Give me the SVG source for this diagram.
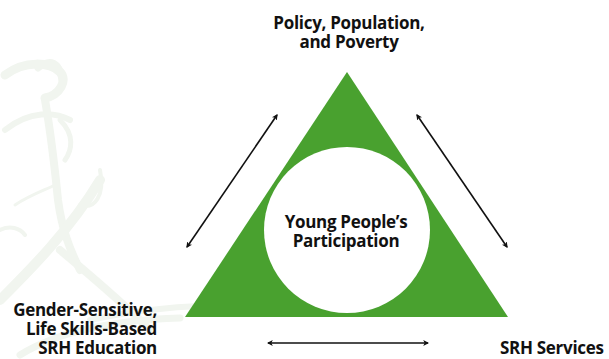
<svg xmlns="http://www.w3.org/2000/svg" width="609" height="359" viewBox="0 0 609 359">
  <style>
    .lbl { font-family: "Open Sans", "Liberation Sans", sans-serif; font-weight: 700; font-size: 17px; letter-spacing: -0.3px; fill: #111; }
    .mid { text-anchor: middle; }
    .end { text-anchor: end; }
    .link { stroke: #111; stroke-width: 1.6; fill: none; marker-start: url(#tip); marker-end: url(#tip); }
    .wm { fill: none; stroke: #f1f5ef; stroke-linecap: round; }
  </style>
  <defs>
    <marker id="tip" viewBox="0 0 10 10" refX="8" refY="5" markerWidth="6" markerHeight="6" orient="auto-start-reverse" markerUnits="userSpaceOnUse">
      <path d="M0,0 L10,5 L0,10 L2.5,5 Z" fill="#111"/>
    </marker>
  </defs>
  <rect width="609" height="359" fill="#fff"/>

  <!-- faint decorative sketch in the background -->
  <g id="backdrop">
    <path class="wm" stroke-width="9" d="M5,75 C25,60 50,62 60,72 C68,80 60,95 45,98"/>
    <path class="wm" stroke-width="7" d="M38,68 C50,58 60,62 62,80"/>
    <path class="wm" stroke-width="6" d="M5,130 C30,110 55,112 70,120"/>
    <path class="wm" stroke-width="8" d="M45,100 C52,140 55,170 58,200 C62,230 70,250 80,270"/>
    <path class="wm" stroke-width="5" d="M60,120 C75,135 72,150 65,160"/>
    <path class="wm" stroke-width="4" d="M100,170 C105,195 95,210 80,205"/>
    <path class="wm" stroke-width="3" d="M15,205 C30,195 45,190 55,185"/>
    <path class="wm" stroke-width="10" d="M0,300 C30,270 70,230 100,180"/>
    <path class="wm" stroke-width="8" d="M60,250 C90,275 120,300 150,330"/>
    <path class="wm" stroke-width="6" d="M90,320 C160,305 240,300 330,312"/>
    <path class="wm" stroke-width="7" d="M20,355 C60,330 120,320 180,318"/>
    <path class="wm" stroke-width="4" d="M0,230 C10,225 20,228 25,235"/>
  </g>

  <g id="triangle">
    <path d="M347,72 L185,317 L508,317 Z" fill="#49a12f"/>
  </g>

  <g id="center">
    <circle cx="347" cy="230" r="83" fill="#fff"/>
    <text class="lbl mid" x="346" y="228">Young People’s</text>
    <text class="lbl mid" x="346" y="247">Participation</text>
  </g>

  <g id="policy">
    <text class="lbl mid" x="349" y="29">Policy, Population,</text>
    <text class="lbl mid" x="349" y="48">and Poverty</text>
  </g>

  <g id="education">
    <text class="lbl end" x="157" y="316">Gender-Sensitive,</text>
    <text class="lbl end" x="157" y="335">Life Skills-Based</text>
    <text class="lbl end" x="157" y="354">SRH Education</text>
  </g>

  <g id="services">
    <text class="lbl" x="500" y="354">SRH Services</text>
  </g>

  <g id="connectors">
    <line class="link" x1="187" y1="247" x2="277" y2="115"/>
    <line class="link" x1="417" y1="115" x2="507" y2="247"/>
    <line class="link" x1="268" y1="343" x2="428" y2="343"/>
  </g>
</svg>
